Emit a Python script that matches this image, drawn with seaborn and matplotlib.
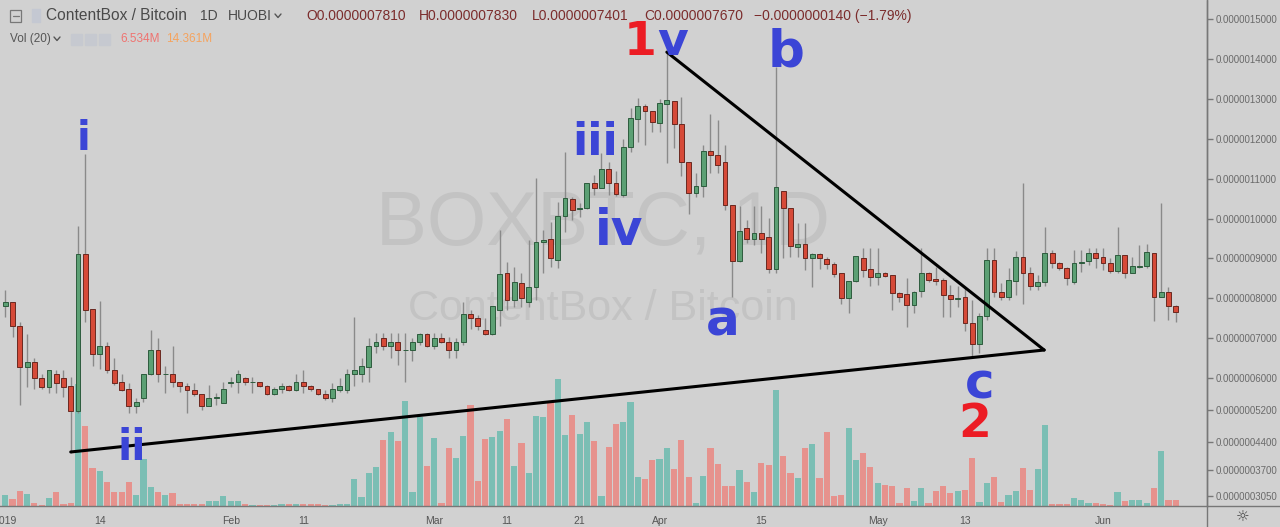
import numpy as np
import pandas as pd
import matplotlib
matplotlib.use('Agg')
import matplotlib.pyplot as plt
from matplotlib import font_manager
from matplotlib.lines import Line2D
from matplotlib.patches import Rectangle
import seaborn as sns

# ==================================================
# 0. DATA  (prices in 1e-10 BTC, e.g. 7810 -> 0.0000007810 ; volume in millions)
# ==================================================
first_day = '2019-01-01'

opens = [7810, 7910, 7310, 6280, 6400, 6000, 5780, 6100, 6000, 5800,
         5180, 9110, 7730, 6610, 6810, 6200, 5900, 5730, 5300, 5500,
         6100, 6710, 6100, 6100, 5900, 5800, 5700, 5600, 5300, 5500,
         5380, 5880, 5900, 6000, 5900, 5900, 5800, 5600, 5730, 5800,
         5700, 5900, 5800, 5730, 5600, 5500, 5700, 5700, 6100, 6100,
         6280, 6810, 7010, 6810, 6910, 6710, 6710, 6910, 7110, 6810,
         7010, 6910, 6710, 6910, 7610, 7510, 7210, 7110, 7710, 8640,
         7960, 8380, 7910, 8280, 9410, 9490, 8960, 10060, 10490, 10240,
         10260, 10890, 10770, 11240, 10890, 10590, 11790, 12490, 12820, 12690,
         12390, 12870, 12950, 12370, 11420, 10640, 10820, 11690, 11590, 11420,
         10340, 8940, 9760, 9490, 9640, 9540, 8740, 10690, 10260, 9290,
         9360, 9010, 9110, 8990, 8860, 8640, 8010, 8430, 9010, 8740,
         8530, 8640, 8580, 8130, 8110, 7830, 8180, 8640, 8480, 8460,
         8080, 7980, 8030, 7380, 6860, 7560, 8960, 8160, 8030, 8430,
         9040, 8640, 8310, 8410, 9140, 8890, 8760, 8410, 8890, 8940,
         9140, 9040, 8890, 8690, 9090, 8640, 8790, 8810, 9140, 8030,
         8160, 7810]

highs = [8210, 7910, 7410, 7110, 6510, 6100, 6200, 6200, 6200, 6030,
         9810, 11620, 7730, 7930, 6910, 6510, 6100, 5880, 5500, 6100,
         7210, 7010, 6300, 6810, 5900, 5880, 5880, 5600, 5830, 5630,
         5900, 6030, 6200, 6030, 6030, 5900, 5830, 5780, 5880, 5830,
         6100, 6200, 5830, 5730, 5700, 5880, 6000, 6230, 7530, 6510,
         7010, 7130, 7130, 7130, 7130, 7130, 7010, 7130, 7130, 7130,
         7130, 7030, 7010, 7910, 7710, 7580, 7510, 7810, 9710, 8910,
         8790, 8640, 9460, 11020, 9710, 9910, 10410, 11670, 10540, 10390,
         10890, 11090, 11640, 11420, 11190, 11990, 12770, 13020, 12870, 12690,
         13000, 14150, 12950, 13050, 11420, 11140, 11840, 12620, 12470, 11840,
         10340, 10310, 9960, 10310, 10310, 10010, 13800, 10690, 10260, 9890,
         9890, 9140, 9140, 9040, 8910, 8640, 8430, 9060, 9260, 9260,
         9260, 8660, 8580, 8160, 8510, 8180, 9260, 8660, 8790, 8510,
         8330, 8310, 8280, 7960, 7630, 9260, 9260, 8380, 8760, 9190,
         10890, 8790, 8580, 9790, 9210, 8910, 8790, 9210, 9210, 9260,
         9260, 9260, 9010, 9790, 9090, 9040, 9340, 9360, 9140, 10390,
         8280, 7830]

lows = [7530, 7030, 5330, 5780, 5730, 5730, 5630, 5630, 5530, 4120,
        5130, 7410, 6300, 6230, 6130, 5830, 5680, 5130, 5130, 5400,
        6080, 5900, 5630, 5780, 5650, 5130, 5550, 5200, 5300, 5330,
        5380, 5780, 5630, 5830, 5630, 5780, 5580, 5580, 5630, 5680,
        5680, 5630, 5680, 5580, 5450, 5400, 5650, 5630, 5800, 5900,
        5900, 6630, 6710, 6510, 6330, 5900, 6430, 6830, 6780, 6730,
        6880, 6510, 6510, 6830, 7230, 7210, 7080, 7080, 7310, 7710,
        7780, 7780, 7780, 7960, 8640, 8790, 8760, 9660, 9960, 10040,
        10240, 10590, 10770, 10590, 10560, 10540, 11670, 11920, 11840, 12170,
        12170, 11390, 11770, 11070, 10110, 10540, 10540, 11140, 11140, 10210,
        8030, 8910, 9390, 9340, 9140, 8640, 8640, 9010, 9040, 9040,
        8710, 8280, 8740, 8740, 8530, 7860, 7630, 8410, 8530, 8310,
        8330, 8530, 7710, 7910, 7280, 7630, 8030, 8410, 8330, 7530,
        7530, 7780, 7180, 6530, 6630, 7460, 8030, 7960, 7960, 8080,
        7860, 8210, 8210, 8310, 8760, 8710, 8330, 8360, 8660, 8840,
        8760, 8710, 8640, 8640, 8510, 8640, 8760, 8760, 7430, 8030,
        7460, 7401]

closes = [7910, 7310, 6280, 6400, 6000, 5780, 6200, 5880, 5780, 5180,
          9110, 7710, 6610, 6810, 6200, 5880, 5700, 5300, 5400, 6100,
          6710, 6100, 6110, 5900, 5800, 5700, 5600, 5300, 5500, 5530,
          5730, 5900, 6100, 5900, 5900, 5800, 5600, 5730, 5800, 5700,
          5900, 5800, 5730, 5600, 5500, 5730, 5800, 6100, 6200, 6300,
          6810, 6910, 6810, 6910, 6710, 6710, 6910, 7110, 6810, 7010,
          6910, 6710, 6910, 7610, 7510, 7310, 7110, 7810, 8610, 7960,
          8410, 8010, 8280, 9410, 9460, 9010, 10060, 10510, 10210, 10260,
          10890, 10770, 11240, 10890, 10610, 11790, 12520, 12820, 12690, 12420,
          12900, 12970, 12370, 11420, 10640, 10820, 11690, 11590, 11340, 10340,
          8940, 9690, 9490, 9640, 9490, 8740, 10790, 10260, 9310, 9360,
          9010, 9110, 9010, 8860, 8610, 8010, 8430, 9060, 8710, 8530,
          8640, 8560, 8130, 8030, 7830, 8160, 8640, 8460, 8430, 8080,
          7980, 8010, 7380, 6860, 7560, 8960, 8160, 8030, 8460, 9040,
          8640, 8310, 8410, 9140, 8890, 8760, 8510, 8890, 8910, 9140,
          9010, 8890, 8690, 9090, 8640, 8810, 8810, 9160, 8030, 8160,
          7810, 7670]

volumes = [11, 7, 15, 12, 3.5, 1.5, 8, 14, 2, 3.5,
           122, 80, 38, 35, 24, 14, 14, 24, 11, 47,
           19, 14, 11, 13, 2, 2, 2, 2, 5, 5,
           10, 5, 5, 2, 1.5, 1, 1, 1, 2, 2,
           2, 2, 2, 2, 1, 1, 2, 2, 27, 9,
           33, 39, 66, 74, 65, 105, 14, 89, 40, 68,
           3, 58, 48, 70, 101, 25, 67, 69, 75, 87,
           40, 63, 33, 90, 89, 104, 127, 71, 91, 72,
           84, 65, 10, 59, 82, 84, 104, 29, 27, 46,
           47, 58, 37, 66, 29, 3, 30, 58, 42, 20,
           20, 36, 24, 14, 43, 41, 116, 50, 33, 28,
           58, 62, 28, 74, 10, 11, 78, 46, 53, 39,
           23, 21, 20, 3, 18, 5, 18, 3, 15, 20,
           13, 15, 16, 48, 4, 23, 29, 4, 11, 15,
           38, 16, 37, 81, 2, 2, 2, 8, 6, 3,
           3, 2, 1, 14, 5, 6, 6, 3, 18, 55,
           6, 6.5]

price_ticks = [15000, 14000, 13000, 12000, 11000, 10000, 9000, 8000,
               7000, 6000, 5200, 4400, 3700, 3050]

date_ticks = ['2019-01-01', '2019-01-14', '2019-02-01', '2019-02-11', '2019-03-01',
              '2019-03-11', '2019-03-21', '2019-04-01', '2019-04-15', '2019-05-01',
              '2019-05-13', '2019-06-01']
date_labels = ['2019', '14', 'Feb', '11', 'Mar', '11', '21', 'Apr', '15', 'May', '13', 'Jun']

# triangle drawn on the chart: (day, price) end points
upper_line = [(91.0, 14170), (142.9, 6705)]
lower_line = [(9.0, 4150), (142.9, 6705)]

# wave labels: text, day, price (baseline), colour key, size
wave_labels = [('i', 10.7, 11720, 'blue', 29),
               ('ii', 17.4, 3950, 'blue', 30),
               ('iii', 81.2, 11590, 'blue', 32),
               ('iv', 84.4, 9340, 'blue', 35),
               ('b', 107.4, 13800, 'blue', 37),
               ('a', 98.7, 7080, 'blue', 36),
               ('c', 134.1, 5500, 'blue', 36),
               ('2', 133.4, 4530, 'red', 34)]

# ==================================================
# 1. STYLE
# ==================================================
BG = '#d1d1d1'
UP_FILL, UP_EDGE = '#5ca074', '#2d5c3d'
DN_FILL, DN_EDGE = '#d64a38', '#6a2820'
VOL_UP, VOL_DN = '#7bbeb4', '#e6928d'
BLUE, RED = '#3b45d6', '#ec1c24'

sns.set_theme(style='white', rc={'axes.facecolor': 'none', 'figure.facecolor': BG})
plt.rcParams['font.family'] = ['Liberation Sans', 'DejaVu Sans']

installed = {f.name for f in font_manager.fontManager.ttflist}
if 'Liberation Sans Narrow' in installed:
    wm_family, wm_big, wm_small = 'Liberation Sans Narrow', 67, 37
else:
    wm_family, wm_big, wm_small = 'Liberation Sans', 55, 31

W, H = 1280, 527
fig = plt.figure(figsize=(W / 100, H / 100), dpi=100)
rect = [0, 21 / H, 1207 / W, 506 / H]

days = (pd.to_datetime(pd.date_range(first_day, periods=len(opens))) - pd.Timestamp(first_day)).days.values
o = np.array(opens, float)
c = np.array(closes, float)
hi = np.array(highs, float)
lo = np.array(lows, float)
up = c >= o

# ==================================================
# 2. VOLUME (bottom layer)
# ==================================================
ax_vol = fig.add_axes(rect)
vol_df = pd.DataFrame({'day': days, 'vol': volumes, 'dir': np.where(up, 'up', 'down')})
sns.barplot(data=vol_df, x='day', y='vol', hue='dir', palette={'up': VOL_UP, 'down': VOL_DN},
            native_scale=True, dodge=False, width=0.85, errorbar=None, saturation=1,
            linewidth=0, legend=False, ax=ax_vol)
ax_vol.set_xlim(-0.73, 165.3)
ax_vol.set_ylim(0, 506)
ax_vol.set_axis_off()

# ==================================================
# 3. CANDLES
# ==================================================
ax = fig.add_axes(rect)
ax.set_facecolor('none')
ax.vlines(days, lo, hi, colors='#8a8a8a', linewidth=1.0, zorder=2)
body_lo = np.minimum(o, c)
body_h = np.maximum(np.abs(c - o), 6)
ax.bar(days, body_h, bottom=body_lo, width=0.66,
       color=np.where(up, UP_FILL, DN_FILL), edgecolor=np.where(up, UP_EDGE, DN_EDGE),
       linewidth=0.7, zorder=3)

for pts in (upper_line, lower_line):
    ax.plot([p[0] for p in pts], [p[1] for p in pts], color='black', lw=2.2,
            solid_capstyle='round', zorder=5)

colours = {'blue': BLUE, 'red': RED}
for txt, d, p, col, size in wave_labels:
    ax.text(d, p, txt, color=colours[col], fontsize=size, fontweight='bold',
            family='DejaVu Sans', ha='center', va='baseline', zorder=6)
# "1v" peak label: red 1 + blue v
ax.text(89.6, 14100, '1', color=RED, fontsize=34, fontweight='bold', family='DejaVu Sans',
        ha='right', va='baseline', zorder=6)
ax.text(89.7, 14100, 'v', color=BLUE, fontsize=34, fontweight='bold', family='DejaVu Sans',
        ha='left', va='baseline', zorder=6)

ax.set_xlim(-0.73, 165.3)
ax.set_ylim(2796, 15476)

# axes / ticks
for s in ['left', 'top']:
    ax.spines[s].set_visible(False)
ax.spines['right'].set_color('#777777')
ax.spines['bottom'].set_color('#777777')
ax.spines['right'].set_linewidth(1)
ax.spines['bottom'].set_linewidth(1)
ax.yaxis.tick_right()
ax.set_yticks(price_ticks, [f'{v * 1e-10:.10f}' for v in price_ticks])
tick_days = (pd.to_datetime(date_ticks) - pd.Timestamp(first_day)).days.values
ax.set_xticks(tick_days, date_labels)
ax.tick_params(axis='y', direction='out', length=4, width=1, color='#777777',
               labelcolor='#6a6a6a', labelsize=7, pad=2)
ax.tick_params(axis='x', direction='out', length=4, width=1, color='#777777',
               labelcolor='#555555', labelsize=7.5, pad=3)
ax.grid(False)

# ==================================================
# 4. FIGURE DECORATION (watermark, header, frame)
# ==================================================
def fx(px):
    return px / W


def fy(py):
    return 1 - py / H


fig.text(fx(603), fy(245), 'BOXBTC, 1D', family=wm_family, fontsize=wm_big,
         color='#c3c3c3', ha='center', va='baseline', zorder=-1)
fig.text(fx(603), fy(320), 'ContentBox / Bitcoin', family=wm_family, fontsize=wm_small,
         color='#c3c3c3', ha='center', va='baseline', zorder=-1)

# frame extensions of the price / time scales
fig.add_artist(Line2D([fx(1207), fx(1207)], [0, 1], color='#777777', lw=1,
                      transform=fig.transFigure))
fig.add_artist(Line2D([fx(1207), 1], [fy(506), fy(506)], color='#777777', lw=1,
                      transform=fig.transFigure))
fig.text(fx(1243), fy(517), '☼', family='DejaVu Sans', fontsize=11, color='#444444',
         ha='center', va='center')

# header line 1
fig.add_artist(Rectangle((fx(10), fy(22)), fx(11), 12 / H, fill=False, edgecolor='#777777',
                         lw=0.9, transform=fig.transFigure))
fig.add_artist(Line2D([fx(12.5), fx(18.5)], [fy(16), fy(16)], color='#777777', lw=0.9,
                      transform=fig.transFigure))
fig.add_artist(Rectangle((fx(32), fy(22)), fx(8), 13 / H, color='#c4c8d2',
                         transform=fig.transFigure))
fig.text(fx(46), fy(16), 'ContentBox / Bitcoin', color='#4a4a4a', fontsize=11.2,
         ha='left', va='center')
head = [(200, '1D', '#4a4a4a'), (228, 'HUOBI', '#4a4a4a'),
        (306, 'O0.0000007810', '#7b2c2c'), (419, 'H0.0000007830', '#7b2c2c'),
        (532, 'L0.0000007401', '#7b2c2c'), (644, 'C0.0000007670', '#7b2c2c'),
        (754, '\u22120.0000000140 (\u22121.79%)', '#7b2c2c')]
for px, s, col in head:
    fig.text(fx(px), fy(16), s, color=col, fontsize=10, ha='left', va='center')
fig.add_artist(Line2D([fx(275), fx(278), fx(281)], [fy(14), fy(17.5), fy(14)],
                      color='#555555', lw=1, transform=fig.transFigure))

# header line 2
fig.text(fx(10), fy(39), 'Vol (20)', color='#555555', fontsize=8.5, ha='left', va='center')
fig.add_artist(Line2D([fx(54), fx(57), fx(60)], [fy(37), fy(40.5), fy(37)],
                      color='#555555', lw=1, transform=fig.transFigure))
for px in (71, 85, 99):
    fig.add_artist(Rectangle((fx(px), fy(45)), fx(11), 11 / H, color='#c6c9d0',
                             transform=fig.transFigure))
fig.text(fx(120), fy(39), '6.534M', color='#ef7370', fontsize=8.5, ha='left', va='center')
fig.text(fx(166), fy(39), '14.361M', color='#f5a35e', fontsize=8.5, ha='left', va='center')

plt.savefig('out.png', dpi=100, facecolor=BG)
